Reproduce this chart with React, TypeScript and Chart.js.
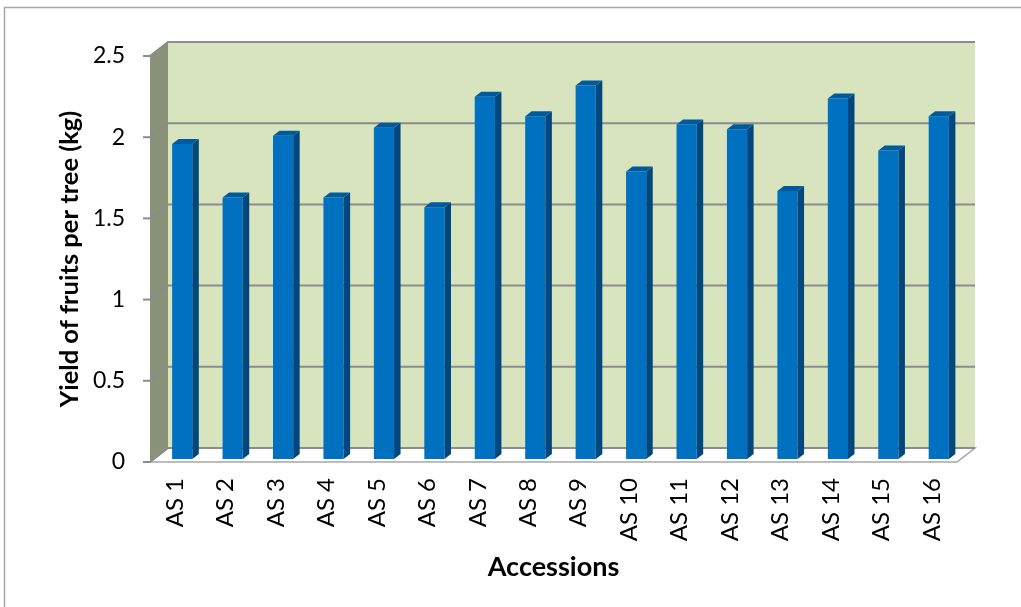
import React, { useEffect, useRef } from "react";
import { Chart, registerables } from "chart.js";

Chart.register(...registerables);

const categories = ["AS 1", "AS 2", "AS 3", "AS 4", "AS 5", "AS 6", "AS 7", "AS 8", "AS 9", "AS 10", "AS 11", "AS 12", "AS 13", "AS 14", "AS 15", "AS 16"];
const yieldValues = [1.94, 1.61, 1.99, 1.61, 2.04, 1.55, 2.23, 2.11, 2.3, 1.77, 2.06, 2.03, 1.65, 2.22, 1.9, 2.11];
const yTicks = [0, 0.5, 1, 1.5, 2, 2.5];
const yTitle = "Yield of fruits per tree (kg)";
const xTitle = "Accessions";

const FONT = "Lato, 'Open Sans', sans-serif";
const DX = 18, DY = -14; // depth of plot box
const BX = 7, BY = -3; // bar position inside the box
const SX = 6.5, SY = -5; // bar depth

function poly(ctx: CanvasRenderingContext2D, pts: number[][]) {
  ctx.beginPath();
  ctx.moveTo(pts[0][0], pts[0][1]);
  for (let i = 1; i < pts.length; i++) ctx.lineTo(pts[i][0], pts[i][1]);
  ctx.closePath();
}

const box3d = {
  id: "box3d",
  beforeDraw(chart: any) {
    const ctx = chart.ctx as CanvasRenderingContext2D;
    ctx.save();
    ctx.fillStyle = "#ffffff";
    ctx.fillRect(0, 0, chart.width, chart.height);
    ctx.strokeStyle = "#a6a6a6";
    ctx.lineWidth = 1.5;
    ctx.strokeRect(4.5, 7.5, 1200, 800);
    ctx.restore();
  },
  beforeDatasetsDraw(chart: any) {
    const ctx = chart.ctx as CanvasRenderingContext2D;
    const a = chart.chartArea;
    const y = chart.scales.y;
    ctx.save();
    // back wall
    ctx.fillStyle = "#d7e4bd";
    ctx.fillRect(a.left + DX, a.top + DY, a.right - a.left, a.bottom - a.top);
    // side wall
    ctx.fillStyle = "#8a9279";
    poly(ctx, [[a.left, a.top], [a.left + DX, a.top + DY], [a.left + DX, a.bottom + DY], [a.left, a.bottom]]);
    ctx.fill();
    // floor
    ctx.fillStyle = "#ffffff";
    poly(ctx, [[a.left, a.bottom], [a.left + DX, a.bottom + DY], [a.right + DX, a.bottom + DY], [a.right, a.bottom]]);
    ctx.fill();
    ctx.strokeStyle = "#a6a6a6";
    ctx.lineWidth = 1.5;
    ctx.stroke();
    // gridlines
    ctx.strokeStyle = "#8c8c8c";
    ctx.lineWidth = 2;
    yTicks.forEach((v) => {
      const py = y.getPixelForValue(v);
      ctx.beginPath();
      ctx.moveTo(a.left, py);
      ctx.lineTo(a.left + DX, py + DY);
      ctx.lineTo(a.right + DX, py + DY);
      ctx.stroke();
      ctx.beginPath();
      ctx.moveTo(a.left - 7, py);
      ctx.lineTo(a.left, py);
      ctx.stroke();
    });
    ctx.restore();
    ctx.save();
    ctx.translate(BX, BY);
  },
  afterDatasetsDraw(chart: any) {
    const ctx = chart.ctx as CanvasRenderingContext2D;
    const meta = chart.getDatasetMeta(0);
    meta.data.forEach((bar: any) => {
      const { x, y, base, width } = bar.getProps(["x", "y", "base", "width"], true);
      const l = x - width / 2, r = x + width / 2;
      ctx.fillStyle = "#00477e";
      poly(ctx, [[r, y], [r + SX, y + SY], [r + SX, base + SY], [r, base]]);
      ctx.fill();
      ctx.fillStyle = "#005a9e";
      poly(ctx, [[l, y], [l + SX, y + SY], [r + SX, y + SY], [r, y]]);
      ctx.fill();
    });
    ctx.restore();
  },
};

export default function App() {
  const ref = useRef<HTMLCanvasElement | null>(null);
  useEffect(() => {
    if (!ref.current) return;
    const chart = new Chart(ref.current, {
      type: "bar",
      data: {
        labels: categories,
        datasets: [
          {
            data: yieldValues,
            backgroundColor: "#0070c0",
            borderWidth: 0,
            categoryPercentage: 1,
            barPercentage: 0.4,
          },
        ],
      },
      options: {
        responsive: false,
        animation: false,
        layout: { padding: { top: 56, right: 64, bottom: 0, left: 0 } },
        plugins: { legend: { display: false }, tooltip: { enabled: false } },
        scales: {
          x: {
            grid: { display: false, drawTicks: false },
            border: { display: false },
            ticks: {
              color: "#000",
              font: { family: FONT, size: 24 },
              maxRotation: 90,
              minRotation: 90,
              padding: 16,
            },
            title: {
              display: true,
              text: xTitle,
              color: "#000",
              font: { family: FONT, size: 27, weight: "bold" },
              padding: { top: 0, bottom: 24 },
            },
            afterFit: (s: any) => {
              s.height = 145;
            },
          },
          y: {
            min: 0,
            max: 2.5,
            afterBuildTicks: (s: any) => {
              s.ticks = yTicks.map((v) => ({ value: v }));
            },
            grid: { display: false, drawTicks: false },
            border: { display: false },
            ticks: {
              color: "#000",
              font: { family: FONT, size: 23 },
              padding: 25,
              callback: (v: any) => String(v),
            },
            title: {
              display: true,
              text: yTitle,
              color: "#000",
              font: { family: FONT, size: 25.5, weight: "bold" },
              padding: { top: 54, bottom: 0 },
            },
            afterFit: (s: any) => {
              s.width = 150;
            },
          },
        },
      },
      plugins: [box3d],
    });
    return () => chart.destroy();
  }, []);
  return (
    <div style={{ position: "fixed", left: 0, top: 0, width: 1021, height: 607 }}>
      <canvas ref={ref} width={1021} height={607} style={{ width: 1021, height: 607, display: "block" }} />
    </div>
  );
}
